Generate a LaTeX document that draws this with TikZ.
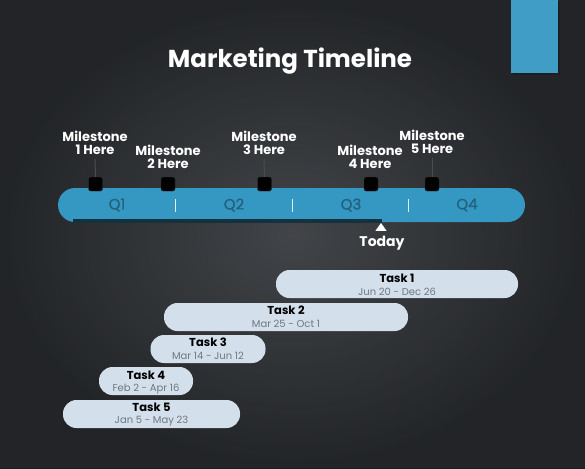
\documentclass[tikz,border=0pt]{standalone}
\usepackage{fontspec}
\setmainfont{Poppins}
\newfontfamily\qfont[FakeBold=1.2]{Poppins}
\usetikzlibrary{shapes.geometric}
\definecolor{bgc}{HTML}{2E3135}
\definecolor{bgdark}{HTML}{1C1E20}
\definecolor{bluebar}{HTML}{3598C3}
\definecolor{qtext}{HTML}{23627F}
\definecolor{taskfill}{HTML}{D3DFEA}
\definecolor{datec}{HTML}{6E7883}
\definecolor{shadowc}{HTML}{15303F}
\tikzset{
  x=1pt,y=-1pt,
  mslabel/.style={text=white,font=\bfseries\fontsize{13}{13.5}\selectfont,align=center,inner sep=0pt},
  msbox/.style={fill=black,draw=black!80,rounded corners=2pt,minimum size=14pt,inner sep=0pt},
  stem/.style={draw=black!70,line width=1pt},
  qlab/.style={text=qtext,font=\qfont\fontsize{15}{15}\selectfont,inner sep=0pt},
  divider/.style={draw=white!85!bluebar,line width=0.8pt},
  taskbox/.style={fill=taskfill,rounded corners=13.5pt,minimum height=28pt,inner sep=0pt},
  tasktitle/.style={font=\bfseries\fontsize{11.5}{12}\selectfont,text=black,inner sep=0pt},
  taskdate/.style={font=\fontsize{10}{10}\selectfont,text=datec,inner sep=0pt},
}
\begin{document}
\begin{tikzpicture}
\useasboundingbox (0,0) rectangle (585,468);
% background
\shade[inner color=bgc!85!white, outer color=bgdark] (0,0) rectangle (585,468);
\fill[bgc,opacity=0.35] (0,0) rectangle (585,468);
% top right blue block
\fill[bgdark] (513,2) rectangle (560,75);
\fill[bluebar!95!white] (511,0) rectangle (558,73);
% title
\node[text=white,font=\bfseries\fontsize{24.5}{25}\selectfont,inner sep=0pt] (title) at (290,61) {Marketing Timeline};
% timeline bar
\fill[bluebar,rounded corners=17pt] (58,188) rectangle (525,222);
\fill[shadowc] (73,219) rectangle (382,223);
\draw[divider] (175,199) -- (175,212);
\draw[divider] (292,199) -- (292,212);
\draw[divider] (408,199) -- (408,212);
\node[qlab] (q1) at (117,205) {Q1};
\node[qlab] (q2) at (234,205) {Q2};
\node[qlab] (q3) at (351,205) {Q3};
\node[qlab] (q4) at (467,205) {Q4};
% milestones
\node[mslabel,anchor=south] (l1) at (95,155) {Milestone\\1 Here};
\node[mslabel,anchor=south] (l2) at (168,169) {Milestone\\2 Here};
\node[mslabel,anchor=south] (l3) at (264,155) {Milestone\\3 Here};
\node[mslabel,anchor=south] (l4) at (370,169) {Milestone\\4 Here};
\node[mslabel,anchor=south] (l5) at (432,154) {Milestone\\5 Here};
\node[msbox] (m1) at (95.5,184) {};
\node[msbox] (m2) at (168,184) {};
\node[msbox] (m3) at (264.5,184) {};
\node[msbox] (m4) at (371,184) {};
\node[msbox] (m5) at (432,184) {};
\draw[stem] (l1.south) ++(0,4) -- (m1.north);
\draw[stem] (l3.south) ++(0,4) -- (m3.north);
\draw[stem] (l5.south) ++(0,4) -- (m5.north);
% today
\node[fill=white,isosceles triangle,shape border rotate=90,isosceles triangle apex angle=70,minimum height=8pt,minimum width=8pt,inner sep=0pt] (tri) at (381,228) {};
\node[text=white,font=\bfseries\fontsize{14}{14}\selectfont,inner sep=0pt] (today) at (382,243) {Today};
% tasks
\node[taskbox,minimum width=242pt] (t1) at (397,284) {};
\node[tasktitle] at (397,278) {Task 1};
\node[taskdate] at (397,292) {Jun 20 - Dec 26};
\node[taskbox,minimum width=244pt] (t2) at (286,317) {};
\node[tasktitle] at (286,310) {Task 2};
\node[taskdate] at (286,324) {Mar 25 - Oct 1};
\node[taskbox,minimum width=115pt] (t3) at (208,349) {};
\node[tasktitle] at (208,342) {Task 3};
\node[taskdate] at (208,356) {Mar 14 - Jun 12};
\node[taskbox,minimum width=94pt] (t4) at (146,381) {};
\node[tasktitle] at (146,375) {Task 4};
\node[taskdate] at (146,389) {Feb 2 - Apr 16};
\node[taskbox,minimum width=177pt] (t5) at (151.5,414) {};
\node[tasktitle] at (151.5,407) {Task 5};
\node[taskdate] at (151.5,421) {Jan 5 - May 23};
\end{tikzpicture}
\end{document}
